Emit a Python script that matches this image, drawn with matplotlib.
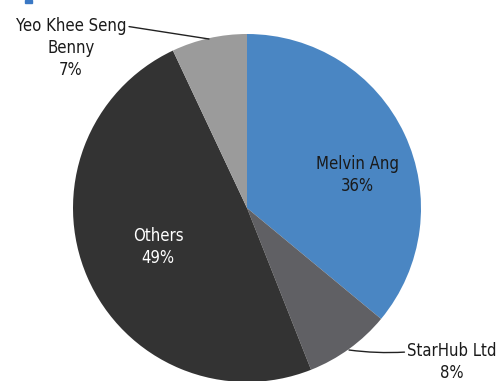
import matplotlib.pyplot as plt
from matplotlib.patches import Rectangle
from matplotlib import font_manager

owners = ["Melvin Ang", "StarHub Ltd", "Others", "Yeo Khee Seng\nBenny"]
shares = [36, 8, 49, 7]
colors = ["#4a86c3", "#606064", "#333333", "#9b9b9b"]
text_colors = ["#1a1a1a", "#1a1a1a", "#ffffff", "#1a1a1a"]

print(sorted({f.name for f in font_manager.fontManager.ttflist}))
print([ (f.name, f.stretch) for f in font_manager.fontManager.ttflist if 'Condensed' in f.fname or 'Narrow' in f.fname])

W, H = 498, 381
fig = plt.figure(figsize=(W / 100, H / 100), dpi=100)
ax = fig.add_axes([0, 0, 1, 1])

# pie in pixel units, y axis pointing up
cx, cy, r = 247, H - 208, 174
ax.pie(shares, colors=colors, startangle=90, counterclock=False,
       center=(cx, cy), radius=r, wedgeprops=dict(linewidth=0))
ax.set_xlim(0, W)
ax.set_ylim(0, H)
ax.set_aspect("equal")
ax.axis("off")

font = dict(family=["DejaVu Sans"], stretch="condensed",
            fontsize=12, ha="center", va="center", linespacing=1.3)

def label(i):
    return f"{owners[i]}\n{shares[i]}%"

ax.text(357, H - 175, label(0), color=text_colors[0], **font)
ax.text(158, H - 247, label(2), color=text_colors[2], **font)
ax.annotate(label(1), xy=(349, H - 350), xytext=(452, H - 362),
            color=text_colors[1], **font,
            arrowprops=dict(arrowstyle="-", color="#222222", lw=1,
                            shrinkA=0, shrinkB=0, relpos=(0, 0.75),
                            connectionstyle="arc3,rad=-0.05"))
ax.annotate(label(3), xy=(209, H - 39), xytext=(71, H - 48),
            color=text_colors[3], **font,
            arrowprops=dict(arrowstyle="-", color="#222222", lw=1,
                            shrinkA=0, shrinkB=0, relpos=(1, 0.85)))

# cut-off heading marker at the top edge
fig.patches.append(Rectangle((25 / W, 1 - 3 / H), 7 / W, 3 / H,
                             transform=fig.transFigure, color="#3a78c4"))

fig.savefig("out.png", dpi=100)
